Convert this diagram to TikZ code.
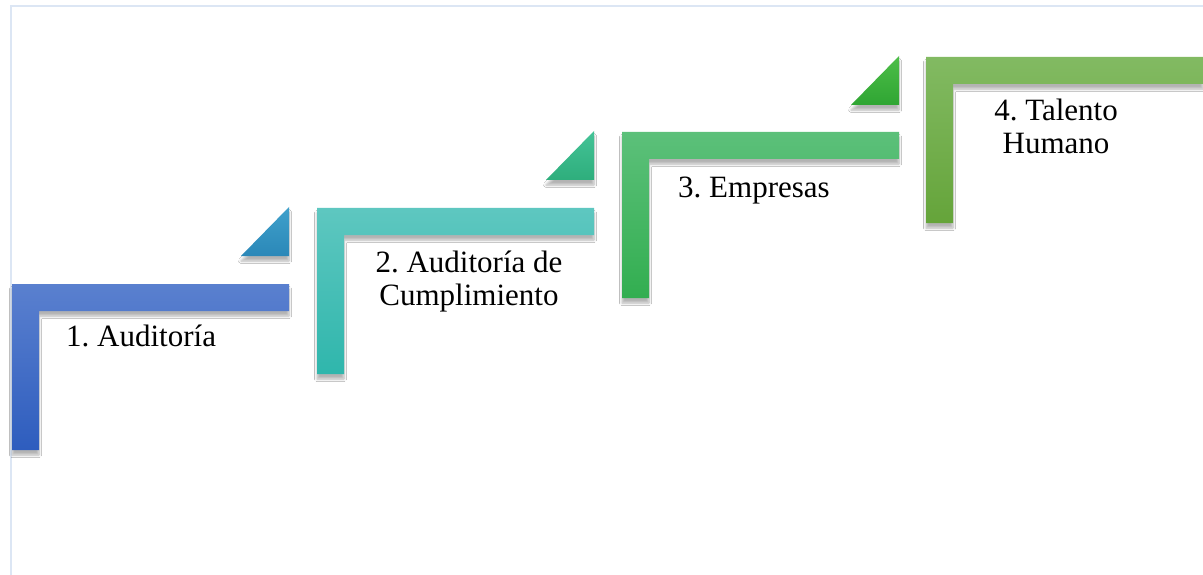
\documentclass[tikz,border=0pt]{standalone}
\usepackage{fontspec}
\setmainfont{Liberation Serif}
\usetikzlibrary{shadows.blur}
\frenchspacing
\definecolor{frame}{HTML}{DCE6F4}
\definecolor{aT}{HTML}{5A80CF}\definecolor{aB}{HTML}{2E5DBE}
\definecolor{taT}{HTML}{3FA0CB}\definecolor{taB}{HTML}{2B88B8}
\definecolor{bT}{HTML}{5EC7C0}\definecolor{bB}{HTML}{2FB6AC}
\definecolor{tbT}{HTML}{44C397}\definecolor{tbB}{HTML}{2EAE7C}
\definecolor{cT}{HTML}{5CC07A}\definecolor{cB}{HTML}{32AE50}
\definecolor{tcT}{HTML}{4DBE48}\definecolor{tcB}{HTML}{2FA533}
\definecolor{dT}{HTML}{82BA62}\definecolor{dB}{HTML}{65A43A}
\tikzset{
  stepshape/.style={blur shadow={shadow xshift=0pt,shadow yshift=-5pt,shadow blur steps=6,shadow opacity=30,shadow blur radius=2.5pt}},
  steptext/.style={font=\fontsize{31}{33}\selectfont\frenchspacing, inner sep=0pt, text=black, align=center},
}
\newcommand{\Lshape}[4]{% x0, y0 (px from top), top colour, bottom colour
  \path[stepshape, top color=#3, bottom color=#4]
    (#1,#2) -- ++(277,0) -- ++(0,27) -- ++(-250,0) -- ++(0,139) -- ++(-27,0) -- cycle;}
\newcommand{\Tri}[4]{% x right, y top
  \path[stepshape, top color=#3, bottom color=#4]
    (#1,#2) -- ++(0,49) -- ++(-48,0) -- cycle;}
\begin{document}
\begin{tikzpicture}[x=1pt,y=-1pt]
\useasboundingbox (0,0) rectangle (1203,575);
\fill[white] (0,0) rectangle (1203,575);
\draw[frame, line width=2pt] (11,575) -- (11,6) -- (1203,6);
\Lshape{12}{284}{aT}{aB}
\Tri{289}{207}{taT}{taB}
\Lshape{317}{208}{bT}{bB}
\Tri{594}{131}{tbT}{tbB}
\Lshape{622}{132}{cT}{cB}
\Tri{899}{56}{tcT}{tcB}
\Lshape{926}{57}{dT}{dB}
\node[steptext, anchor=base west] (t1) at (66,346) {1. Auditoría};
\node[steptext, anchor=center] (t2) at (469,282) {2. Auditoría de\\Cumplimiento};
\node[steptext, anchor=base west] (t3) at (678,197) {3. Empresas};
\node[steptext, anchor=center] (t4) at (1056,126) {4. Talento\\Humano};
\end{tikzpicture}
\end{document}
